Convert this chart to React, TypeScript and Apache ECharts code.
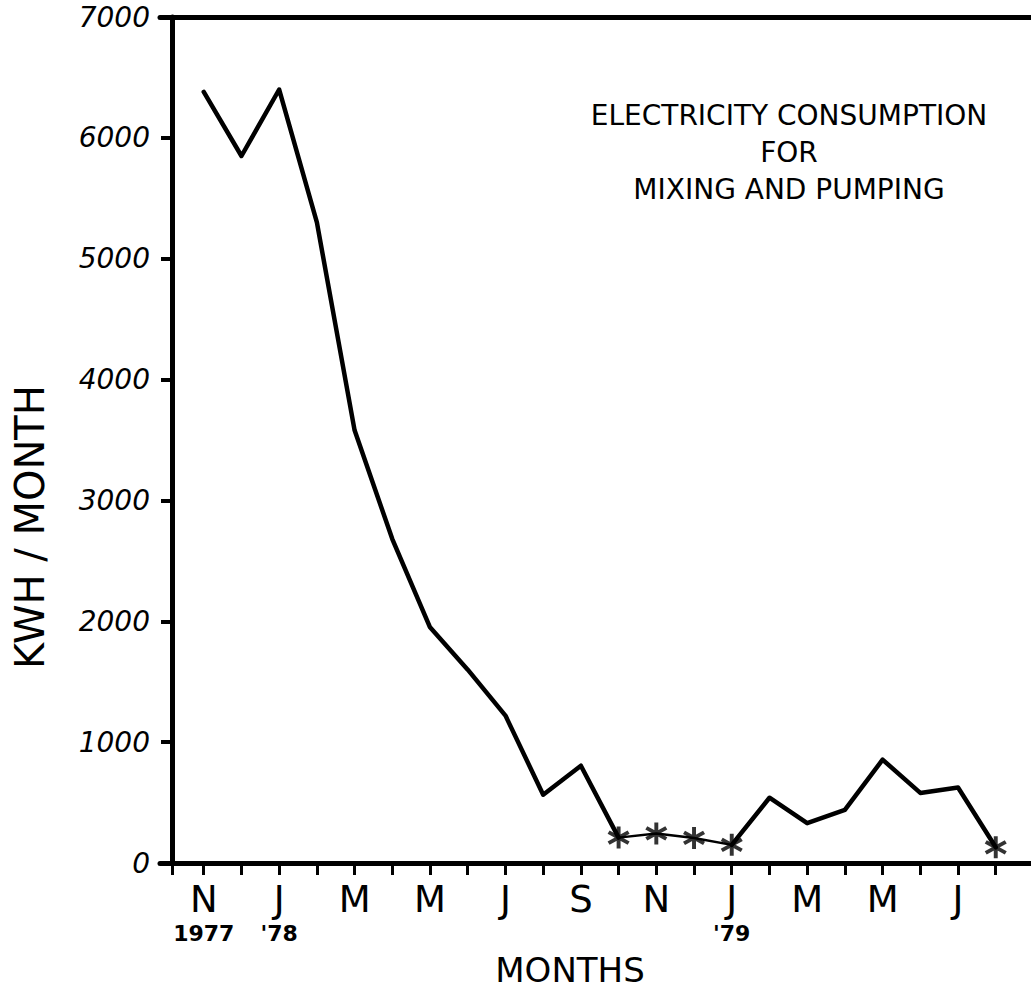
import React, { useEffect, useRef } from "react";
import * as echarts from "echarts";

// Months from Nov 1977 to Aug 1979 (index 0..21)
const months = [
  "Nov 1977", "Dec 1977", "Jan 1978", "Feb 1978", "Mar 1978", "Apr 1978",
  "May 1978", "Jun 1978", "Jul 1978", "Aug 1978", "Sep 1978", "Oct 1978",
  "Nov 1978", "Dec 1978", "Jan 1979", "Feb 1979", "Mar 1979", "Apr 1979",
  "May 1979", "Jun 1979", "Jul 1979", "Aug 1979",
];
// KWH per month
const kwh = [
  6380, 5850, 6400, 5300, 3580, 2680,
  1950, 1600, 1220, 565, 805, 210,
  245, 207, 150, 540, 330, 440,
  855, 580, 625, 130,
];
// Months plotted with an asterisk
const starMonths = ["Oct 1978", "Nov 1978", "Dec 1978", "Jan 1979", "Aug 1979"];
// Segment drawn with a thinner line
const thinFrom = "Oct 1978";
const thinTo = "Jan 1979";

// Tick labels (every other month, starting Nov 1977)
const monthTickLabels = ["N", "J", "M", "M", "J", "S", "N", "J", "M", "M", "J"];
const yearTickLabels = ["1977", "'78", "", "", "", "", "", "'79", "", "", ""];
const yTicks = [0, 1000, 2000, 3000, 4000, 5000, 6000, 7000];

const titleLines = ["ELECTRICITY CONSUMPTION", "FOR", "MIXING AND PUMPING"];
const yName = "KWH / MONTH";
const xName = "MONTHS";

const FONT = "DejaVu Sans";

// asterisk symbol (three filled bars)
const STAR =
  "path://M-1.7,10L1.7,10L1.7,-10L-1.7,-10Z" +
  "M7.81,6.472L9.51,3.528L-7.81,-6.472L-9.51,-3.528Z" +
  "M9.51,-3.528L7.81,-6.472L-9.51,3.528L-7.81,6.472Z";

const X_MIN = -1.16;
const X_MAX = 22.2;
const Y_AXIS_SHIFT = 12; // y axis sits a little right of the grid's left edge

export default function App() {
  const ref = useRef<HTMLDivElement>(null);

  useEffect(() => {
    if (!ref.current) return;
    const chart = echarts.init(ref.current, null, { renderer: "svg" });

    const pts = kwh.map((v, i) => [i, v]);
    const a = months.indexOf(thinFrom);
    const b = months.indexOf(thinTo);
    const thickA = pts.slice(0, a + 1);
    const thin = pts.slice(a, b + 1);
    const thickB = pts.slice(b);
    const stars = starMonths.map((m) => {
      const i = months.indexOf(m);
      return [i, kwh[i]];
    });

    const gridLeft = 160;
    const gridWidth = 881;
    const pxPerUnit = gridWidth / (X_MAX - X_MIN);
    const yAxisValue = X_MIN + Y_AXIS_SHIFT / pxPerUnit;

    const tickValues = [yAxisValue, ...months.map((_, i) => i)];
    const labelValues = monthTickLabels.map((_, k) => k * 2);

    const lineBase = {
      type: "line" as const,
      symbol: "none",
      showSymbol: false,
      silent: true,
      lineStyle: { color: "#000", width: 4.5, join: "round", cap: "round" },
      z: 3,
    };

    chart.setOption({
      animation: false,
      backgroundColor: "#fff",
      grid: {
        left: gridLeft,
        top: 17,
        width: gridWidth,
        height: 846,
        containLabel: false,
        outerBoundsMode: "none",
      },
      title: {
        text: titleLines.join("\n"),
        left: 784,
        top: 92,
        textAlign: "center",
        textStyle: {
          fontFamily: FONT,
          fontSize: 28,
          fontWeight: "normal",
          color: "#000",
          lineHeight: 37,
          align: "center",
        },
      },
      xAxis: [
        {
          type: "value",
          min: X_MIN,
          max: X_MAX,
          position: "bottom",
          axisLine: { show: true, onZero: false, lineStyle: { color: "#000", width: 5 } },
          axisTick: {
            show: true,
            inside: false,
            length: 12,
            lineStyle: { color: "#000", width: 3 },
            customValues: tickValues,
          },
          splitLine: { show: false },
          axisLabel: {
            show: true,
            margin: 17,
            customValues: labelValues,
            formatter: (v: number) => {
              const k = Math.round(v / 2);
              const m = monthTickLabels[k] ?? "";
              const y = yearTickLabels[k] ?? "";
              return y ? `{m|${m}}\n{y|${y}}` : `{m|${m}}`;
            },
            rich: {
              m: { fontFamily: FONT, fontSize: 37, color: "#000", lineHeight: 38 },
              y: { fontFamily: FONT, fontSize: 22, fontWeight: "bold", color: "#000", lineHeight: 30 },
            },
          },
        },
        {
          type: "value",
          min: X_MIN,
          max: X_MAX,
          position: "top",
          axisLine: { show: true, onZero: false, lineStyle: { color: "#000", width: 5 } },
          axisTick: { show: false },
          axisLabel: { show: false },
          splitLine: { show: false },
        },
      ],
      yAxis: {
        type: "value",
        min: 0,
        max: 7000,
        interval: 1000,
        offset: -Y_AXIS_SHIFT,
        axisLine: { show: true, onZero: false, lineStyle: { color: "#000", width: 5 } },
        axisTick: {
          show: true,
          inside: false,
          length: 11,
          lineStyle: { color: "#000", width: 4 },
          customValues: yTicks,
        },
        splitLine: { show: false },
        axisLabel: {
          margin: 22,
          customValues: yTicks,
          formatter: (v: number) => String(v),
          fontFamily: FONT,
          fontSize: 28,
          fontStyle: "italic",
          color: "#000",
        },
      },
      graphic: [
        {
          type: "text",
          x: 30,
          y: 527,
          rotation: Math.PI / 2,
          style: {
            text: yName,
            fontFamily: FONT,
            fontSize: 40,
            fill: "#000",
            align: "center",
            verticalAlign: "middle",
          },
        },
        {
          type: "text",
          x: 570,
          y: 970,
          style: {
            text: xName,
            fontFamily: FONT,
            fontSize: 34,
            fill: "#000",
            align: "center",
            verticalAlign: "middle",
          },
        },
      ],
      series: [
        { ...lineBase, name: "thickA", data: thickA },
        { ...lineBase, name: "thin", data: thin, lineStyle: { color: "#000", width: 2.5, join: "round" } },
        { ...lineBase, name: "thickB", data: thickB },
        {
          type: "scatter",
          name: "stars",
          data: stars,
          symbol: STAR,
          symbolSize: 22,
          itemStyle: { color: "#000" },
          silent: true,
          z: 4,
        },
      ],
    });

    return () => chart.dispose();
  }, []);

  return (
    <div
      style={{
        position: "fixed",
        left: 0,
        top: 0,
        width: 1031,
        height: 994,
        overflow: "hidden",
        background: "#fff",
      }}
    >
      <div ref={ref} style={{ width: 1050, height: 994 }} />
    </div>
  );
}
